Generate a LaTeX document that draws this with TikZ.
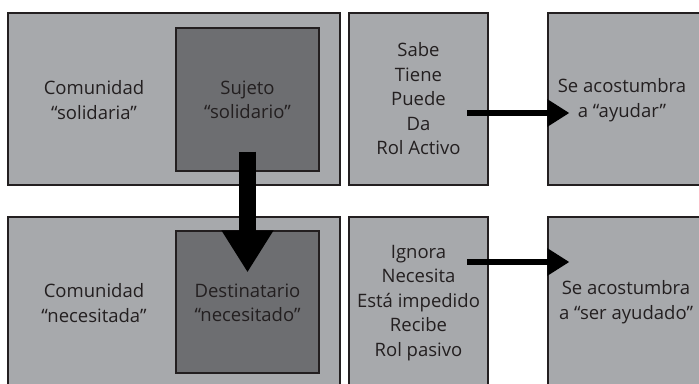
\documentclass[tikz,border=0pt]{standalone}
\usepackage{fontspec}
\setmainfont{Open Sans}
\usetikzlibrary{arrows.meta}
\definecolor{lgray}{HTML}{A7A9AC}
\definecolor{dgray}{HTML}{6D6E71}
\definecolor{ink}{HTML}{231F20}
\tikzset{
  box/.style={draw=ink, line width=1.2pt, fill=lgray, rectangle, inner sep=0pt},
  inbox/.style={draw=ink, line width=1.2pt, fill=dgray, rectangle, inner sep=0pt, minimum width=143pt},
  txt/.style={align=center, font=\fontsize{18.5}{24.5}\selectfont, text=ink, inner sep=0pt},
  bigarrow/.style={draw=black, line width=17pt, -{Triangle[width=49pt,length=42pt]}},
  harrow/.style={draw=black, line width=6.5pt, -{Triangle[width=26pt,length=22pt]}}
}
\begin{document}
\begin{tikzpicture}[x=1pt,y=-1pt]
\useasboundingbox[fill=white] (0,0) rectangle (699,383);
% top row
\node[box, minimum width=332pt, minimum height=172pt] (com1) at (174,99) {};
\node[inbox, minimum height=143pt] (suj) at (247.5,99.5) {};
\node[txt] (com1t) at (94,100) {Comunidad\\“solidaria”};
\node[txt] (suj1t) at (247.5,100) {Sujeto\\“solidario”};
\node[box, minimum width=139pt, minimum height=172pt] (act) at (418.5,99) {};
\node[txt] (actt) at (418.5,99) {Sabe\\Tiene\\Puede\\Da\\Rol Activo};
\node[box, minimum width=172pt, minimum height=172pt] (ayu) at (634,99) {};
\node[txt] (ayut) at (622,100) {Se acostumbra\\a “ayudar”};
% bottom row
\node[box, minimum width=332pt, minimum height=172pt] (com2) at (174,303) {};
\node[inbox, minimum height=142pt] (dest) at (247.5,302) {};
\node[txt] (com2t) at (94,303) {Comunidad\\“necesitada”};
\node[txt] (dest2t) at (247.5,303) {Destinatario\\“necesitado”};
\node[box, minimum width=139pt, minimum height=172pt] (pas) at (418.5,303) {};
\node[txt] (past) at (418.5,303) {Ignora\\Necesita\\Está impedido\\Recibe\\Rol pasivo};
\node[box, minimum width=172pt, minimum height=172pt] (ser) at (634,303) {};
\node[txt] (sert) at (626,302) {Se acostumbra\\a “ser ayudado”};
% arrows
\coordinate (v1) at ([yshift=20pt]suj.south);
\coordinate (v2) at ([yshift=-42pt]dest.north);
\draw[bigarrow] (v1) -- (v2);
\coordinate (h1) at (467,113);
\coordinate (h2) at ([xshift=22pt]ayu.west |- h1);
\draw[harrow] (h1) -- (h2);
\coordinate (h3) at (467,262);
\coordinate (h4) at ([xshift=22pt]ser.west |- h3);
\draw[harrow] (h3) -- (h4);
\end{tikzpicture}
\end{document}
